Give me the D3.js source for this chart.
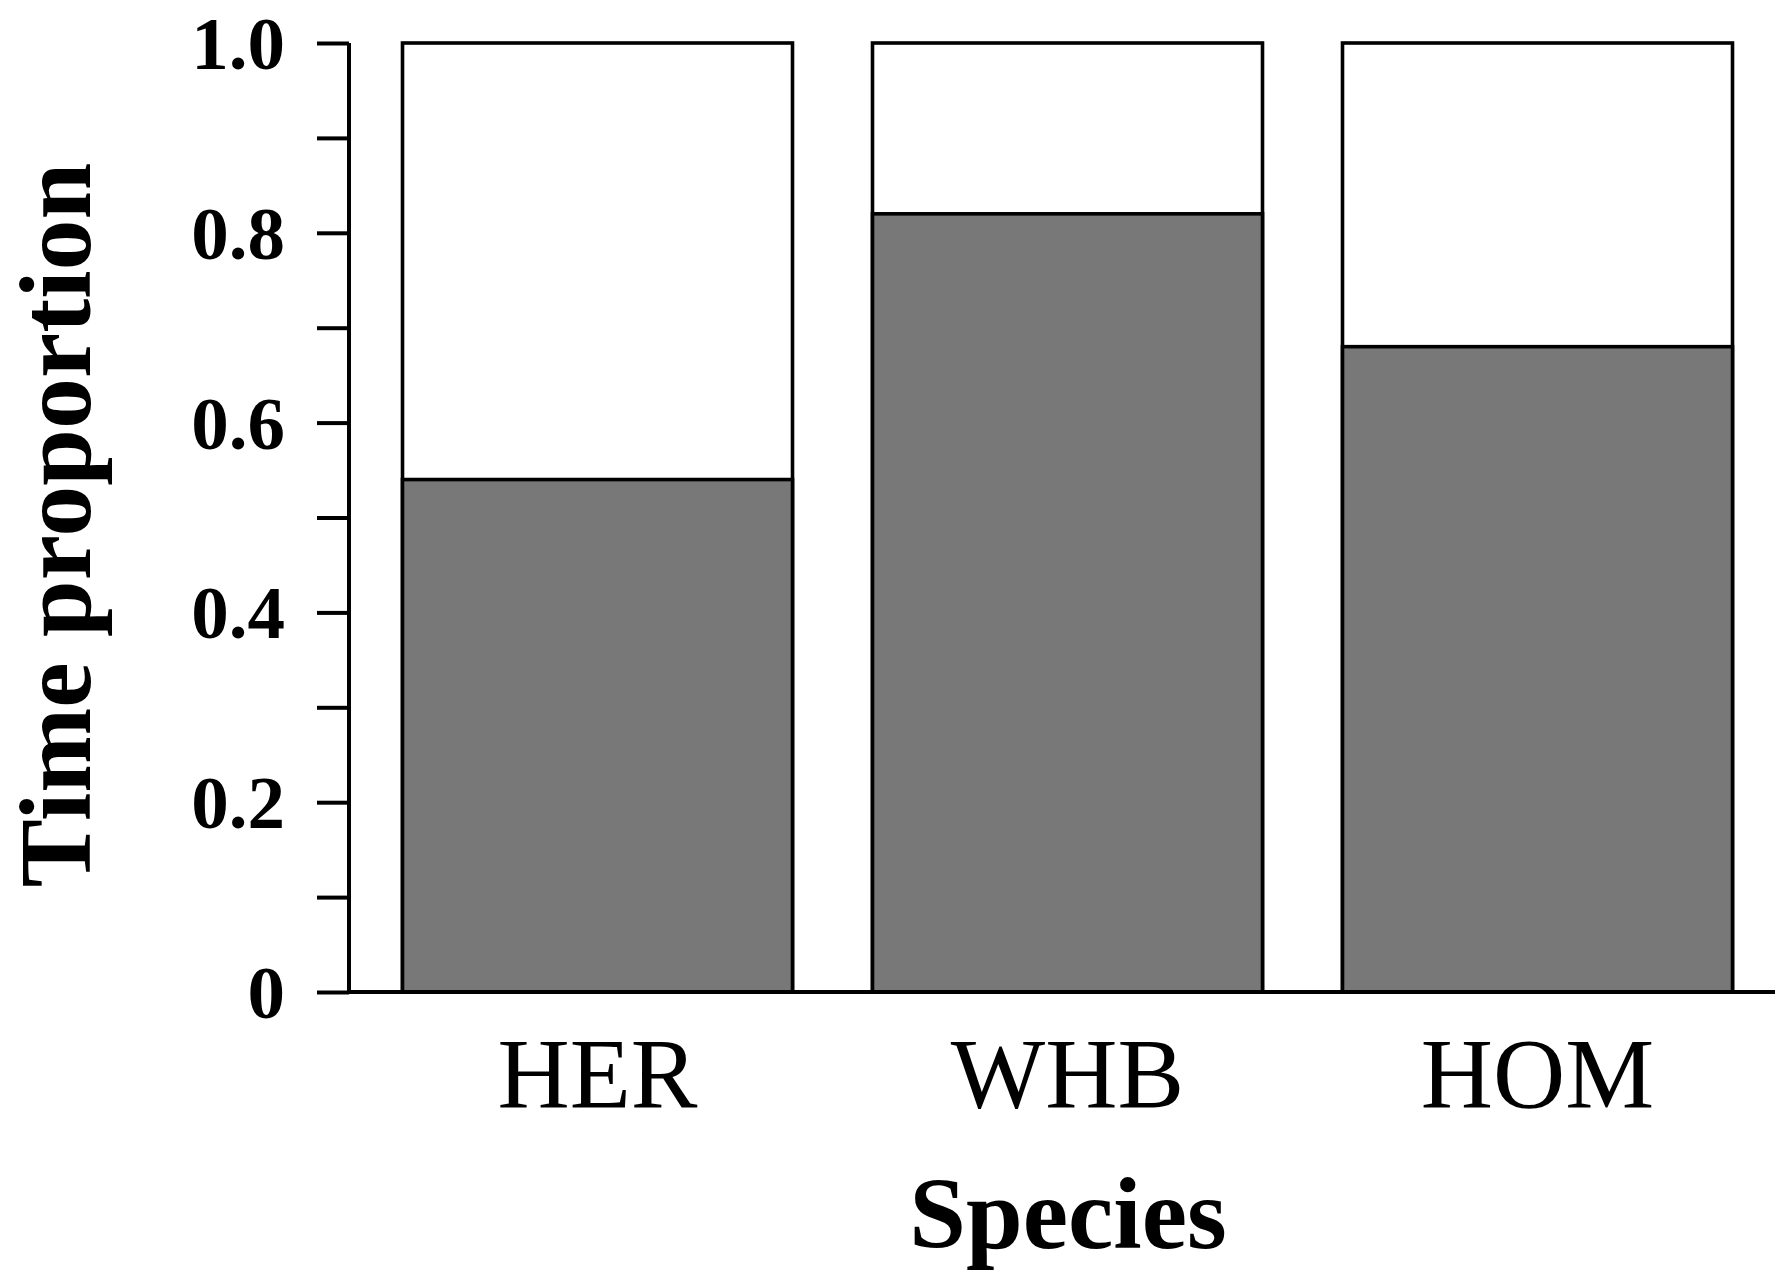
<!DOCTYPE html>
<html>
<head>
<meta charset="utf-8">
<script src="https://cdn.jsdelivr.net/npm/d3@7"></script>
<style>
  html, body { margin: 0; padding: 0; background: #ffffff; }
  svg { display: block; }
</style>
</head>
<body>
<svg id="chart" width="1775" height="1271"></svg>
<script>
// ---- data ----
const categories = ["HER", "WHB", "HOM"];
const shadedValues = [0.54, 0.82, 0.68];   // grey (lower) portion
const totalValues = [1.0, 1.0, 1.0];       // full bar height
const tickValues = [0, 0.1, 0.2, 0.3, 0.4, 0.5, 0.6, 0.7, 0.8, 0.9, 1.0];
const tickLabels = ["0", "", "0.2", "", "0.4", "", "0.6", "", "0.8", "", "1.0"];
const xTitle = "Species";
const yTitle = "Time proportion";

// ---- layout ----
const svg = d3.select("#chart");
const axisX = 349;
const yTop = 43, yBottom = 992;
const serif = "'Liberation Serif', 'Times New Roman', serif";

const y = d3.scaleLinear().domain([0, 1]).range([yBottom, yTop]);
const x = d3.scaleBand()
  .domain(categories)
  .range([362.5, 1772.5])
  .paddingInner(80 / 470)
  .paddingOuter(40 / 470);

// full (white) bars
svg.append("g").selectAll("rect.total")
  .data(categories)
  .join("rect")
  .attr("class", "total")
  .attr("x", d => x(d))
  .attr("y", (d, i) => y(totalValues[i]))
  .attr("width", x.bandwidth())
  .attr("height", (d, i) => y(0) - y(totalValues[i]))
  .attr("fill", "#ffffff")
  .attr("stroke", "#000")
  .attr("stroke-width", 3.6);

// shaded bars
svg.append("g").selectAll("rect.shaded")
  .data(categories)
  .join("rect")
  .attr("class", "shaded")
  .attr("x", d => x(d))
  .attr("y", (d, i) => y(shadedValues[i]))
  .attr("width", x.bandwidth())
  .attr("height", (d, i) => y(0) - y(shadedValues[i]))
  .attr("fill", "#787878")
  .attr("stroke", "#000")
  .attr("stroke-width", 3.6);

// y axis
const yAxis = d3.axisLeft(y)
  .tickValues(tickValues)
  .tickSize(32)
  .tickPadding(32)
  .tickFormat((d, i) => tickLabels[i]);

const yg = svg.append("g")
  .attr("transform", `translate(${axisX},0)`)
  .call(yAxis);
yg.select(".domain")
  .attr("d", `M0,${yTop}V${yBottom}`)
  .attr("stroke", "#000")
  .attr("stroke-width", 4);
yg.selectAll(".tick line").attr("stroke", "#000").attr("stroke-width", 4);
yg.selectAll(".tick text")
  .attr("font-family", serif)
  .attr("font-weight", "bold")
  .attr("font-size", 75)
  .attr("fill", "#000")
  .attr("dy", "0.34em");

// x axis baseline (extends to the right edge)
const xAxis = d3.axisBottom(x).tickSize(0).tickPadding(0);
const xg = svg.append("g")
  .attr("transform", `translate(0,${yBottom})`)
  .call(xAxis);
xg.select(".domain")
  .attr("d", `M${axisX},0H1775`)
  .attr("stroke", "#000")
  .attr("stroke-width", 4);
xg.selectAll(".tick text")
  .attr("font-family", serif)
  .attr("font-size", 100)
  .attr("fill", "#000")
  .attr("dy", null)
  .attr("y", 115);

// axis titles
svg.append("text")
  .attr("x", 1068)
  .attr("y", 1248)
  .attr("text-anchor", "middle")
  .attr("font-family", serif)
  .attr("font-weight", "bold")
  .attr("font-size", 102)
  .attr("fill", "#000")
  .text(xTitle);

svg.append("text")
  .attr("transform", "translate(90,525) rotate(-90)")
  .attr("text-anchor", "middle")
  .attr("font-family", serif)
  .attr("font-weight", "bold")
  .attr("font-size", 102)
  .attr("fill", "#000")
  .text(yTitle);
</script>
</body>
</html>
